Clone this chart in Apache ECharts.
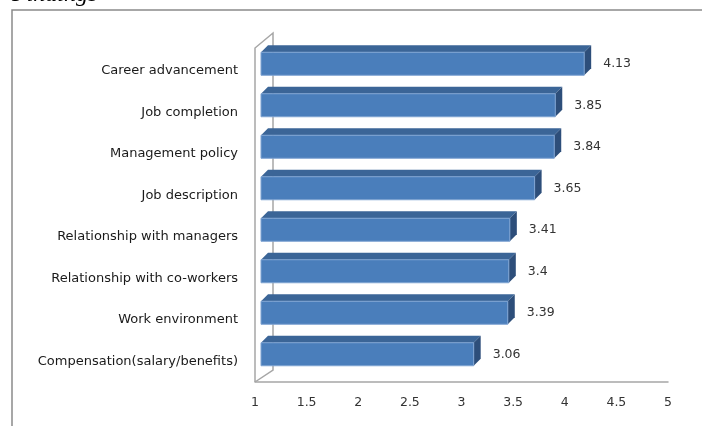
<!DOCTYPE html>
<html><head><meta charset="utf-8">
<script src="https://cdn.jsdelivr.net/npm/echarts@6/dist/echarts.min.js"></script>
<style>html,body{margin:0;padding:0;background:#fff}#c{width:702px;height:426px}</style>
</head><body><div id="c"></div>
<script>
const categories = ['Career advancement','Job completion','Management policy','Job description','Relationship with managers','Relationship with co-workers','Work environment','Compensation(salary/benefits)'];
const values = [4.13, 3.85, 3.84, 3.65, 3.41, 3.4, 3.39, 3.06];
const xTickMin = 1, xTickMax = 5, xTickStep = 0.5;
const titleText = 'Findings';

const G = {left: 255, right: 34, top: 50, bottom: 44};
const W = 702, H = 426;
const FRONT_DX = 6, FRONT_DY = -7, BAR_H = 23, DEPTH = 7;
const labelFont = 'DejaVu Sans';

function renderItem(params, api) {
  const v = api.value(0), idx = api.value(1);
  const p0 = api.coord([xTickMin, idx]);
  const p1 = api.coord([v, idx]);
  const x0 = p0[0] + FRONT_DX, x1 = p1[0] + FRONT_DX, yc = p0[1] + FRONT_DY;
  const yt = yc - BAR_H / 2, yb = yc + BAR_H / 2, d = DEPTH;
  return {type: 'group', children: [
    {type: 'polygon', shape: {points: [[x0, yt], [x1, yt], [x1 + d, yt - d], [x0 + d, yt - d]]}, style: {fill: '#3b6597'}},
    {type: 'polygon', shape: {points: [[x1, yt], [x1 + d, yt - d], [x1 + d, yb - d], [x1, yb]]}, style: {fill: '#2d4e7a'}},
    {type: 'rect', shape: {x: x0, y: yt, width: x1 - x0, height: BAR_H}, style: {fill: '#4a7ebb', stroke: '#7ea3d2', lineWidth: 1}},
    {type: 'text', style: {text: String(v), x: x1 + d + 12, y: yc, verticalAlign: 'middle', align: 'left', fill: '#333', font: '12.5px "' + labelFont + '"'}}
  ]};
}

const wallColor = '#a6a6a6';
const gl = G.left, gb = H - G.bottom, gt = G.top;
const chart = echarts.init(document.getElementById('c'));
chart.setOption({
  animation: false,
  backgroundColor: '#fff',
  grid: {left: G.left, right: G.right, top: G.top, bottom: G.bottom},
  xAxis: {
    type: 'value', min: xTickMin, max: xTickMax, interval: xTickStep,
    axisLine: {show: true, lineStyle: {color: wallColor, width: 1.5}},
    axisTick: {show: false}, splitLine: {show: false},
    axisLabel: {margin: 14, fontSize: 12.5, color: '#333', fontFamily: labelFont}
  },
  yAxis: {
    type: 'category', data: categories, inverse: true,
    axisLine: {show: false}, axisTick: {show: false},
    axisLabel: {margin: 17, fontSize: 13, color: '#1a1a1a', fontFamily: labelFont}
  },
  graphic: [
    {type: 'rect', shape: {x: 12, y: 10, width: 720, height: 440}, style: {fill: 'none', stroke: '#8a8a8a', lineWidth: 1.5}, silent: true},
    {type: 'text', style: {text: titleText, x: 12, y: 7, verticalAlign: 'bottom', font: 'italic 24px "Liberation Serif"', fill: '#000'}},
    {type: 'polyline', shape: {points: [[gl, gb], [gl, gt - 2], [gl + 18, gt - 17], [gl + 18, gb - 12], [gl, gb]]}, style: {stroke: wallColor, lineWidth: 1.5, fill: 'none'}, z: 0}
  ],
  series: [{
    type: 'custom', renderItem: renderItem,
    data: values.map((v, i) => [v, i]),
    encode: {x: 0, y: 1}, z: 5
  }]
});
</script></body></html>
